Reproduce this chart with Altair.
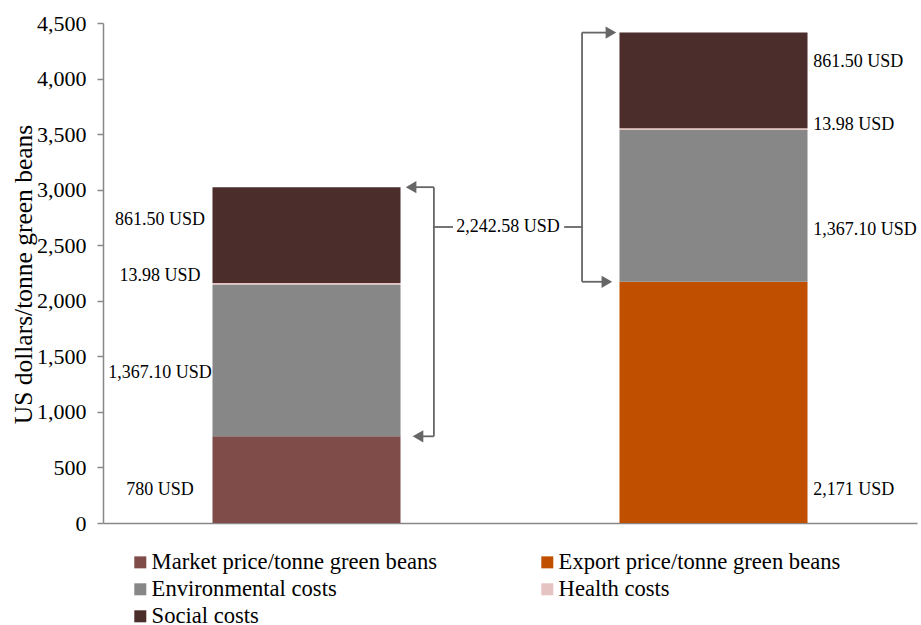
import altair as alt
import pandas as pd

# ---------------- data ----------------
bar_groups = ["Market", "Export"]
base_names = ["Market price/tonne green beans", "Export price/tonne green beans"]
base_values = [780, 2171]
cost_names = ["Environmental costs", "Health costs", "Social costs"]
cost_values = [1367.10, 13.98, 861.50]
base_labels = ["780 USD", "2,171 USD"]
cost_labels = ["1,367.10 USD", "13.98 USD", "861.50 USD"]
difference_label = "2,242.58 USD"

legend_order = [
    "Market price/tonne green beans",
    "Export price/tonne green beans",
    "Environmental costs",
    "Health costs",
    "Social costs",
]
colors = ["#7f4c49", "#c05000", "#878787", "#e5c3c3", "#4b2d2c"]
y_ticks = [0, 500, 1000, 1500, 2000, 2500, 3000, 3500, 4000, 4500]

# label nudges (data units) relative to segment middles
label_nudge = [[-93, -113, 69, 135], [-788, -217, 37, 166]]

FONT = "Liberation Serif"
LINE = "#666666"

# ---------------- build tables ----------------
rows = []
for i, g in enumerate(bar_groups):
    names = [base_names[i]] + cost_names
    vals = [base_values[i]] + cost_values
    labs = [base_labels[i]] + cost_labels
    cum = 0.0
    for k, (n, v, l) in enumerate(zip(names, vals, labs)):
        rows.append(dict(group=g, component=n, value=v, lo=cum, hi=cum + v,
                         label=l, ly=cum + v / 2 + label_nudge[i][k], side=i))
        cum += v
df = pd.DataFrame(rows)
totals = [base_values[i] + sum(cost_values) for i in range(2)]

# annotation geometry in band units (each bar group = 1 unit, centre at i + 0.5)
left_br, right_br = 0.813, 1.177
tip_lt, tip_lb, tip_rt, tip_rb = 0.742, 0.759, 1.263, 1.253
head = 0.015
conn_y = 2664
segs = pd.DataFrame([
    dict(x=left_br, x2=left_br, y=base_values[0], y2=totals[0]),
    dict(x=tip_lt + head, x2=left_br, y=totals[0], y2=totals[0]),
    dict(x=tip_lb + head, x2=left_br, y=base_values[0], y2=base_values[0]),
    dict(x=left_br, x2=0.860, y=conn_y, y2=conn_y),
    dict(x=1.133, x2=right_br, y=conn_y, y2=conn_y),
    dict(x=right_br, x2=right_br, y=base_values[1], y2=totals[1]),
    dict(x=right_br, x2=tip_rt - head, y=totals[1], y2=totals[1]),
    dict(x=right_br, x2=tip_rb - head, y=base_values[1], y2=base_values[1]),
])
heads_l = pd.DataFrame([dict(x=tip_lt + head, y=totals[0]), dict(x=tip_lb + head, y=base_values[0])])
heads_r = pd.DataFrame([dict(x=tip_rt - head, y=totals[1]), dict(x=tip_rb - head, y=base_values[1])])
diff_df = pd.DataFrame([dict(x=0.995, y=conn_y, t=difference_label)])

yscale = alt.Scale(domain=[0, 4500], nice=False)
xa = lambda f="x": alt.X(f"{f}:Q", scale=alt.Scale(domain=[0, 2], nice=False, zero=False), axis=None)

bars = alt.Chart(df).mark_bar().encode(
    x=alt.X("group:N", sort=bar_groups,
            scale=alt.Scale(paddingInner=0.538, paddingOuter=0.269),
            axis=alt.Axis(labels=False, ticks=False, title=None, domainColor="#888888",
                          domainWidth=1.5)),
    y=alt.Y("lo:Q", scale=yscale,
            axis=alt.Axis(values=y_ticks, format=",.0f", grid=False,
                          labelFont=FONT, labelFontSize=22, labelColor="#000000",
                          labelPadding=11, tickColor="#888888", tickSize=6, tickWidth=1.5,
                          domainColor="#888888", domainWidth=1.5,
                          title="US dollars/tonne green beans", titleFont=FONT,
                          titleFontSize=25.5, titleFontWeight="normal", titleColor="#000000",
                          titleX=-80, titleY=251, titleAngle=270, titleAlign="center",
                          titleBaseline="middle")),
    y2="hi:Q",
    color=alt.Color("component:N", scale=alt.Scale(domain=legend_order, range=colors),
                    legend=alt.Legend(orient="none", legendX=26, legendY=528,
                                      direction="horizontal", columns=2, columnPadding=98,
                                      rowPadding=4, symbolType="square", symbolSize=144,
                                      symbolStrokeWidth=0, labelFont=FONT, labelFontSize=22.6,
                                      labelColor="#000000", title=None, labelOffset=0,
                                      padding=0, labelLimit=0)),
)

left_text = alt.Chart(df[df.side == 0]).mark_text(
    font=FONT, fontSize=18, color="#000000", align="center", baseline="middle"
).encode(x=alt.X("lx:Q", scale=alt.Scale(domain=[0, 2], nice=False, zero=False), axis=None),
         y=alt.Y("ly:Q", scale=yscale), text="label:N").transform_calculate(lx="0.140")

right_text = alt.Chart(df[df.side == 1]).mark_text(
    font=FONT, fontSize=18, color="#000000", align="left", baseline="middle"
).encode(x=alt.X("lx:Q", scale=alt.Scale(domain=[0, 2], nice=False, zero=False), axis=None),
         y=alt.Y("ly:Q", scale=yscale), text="label:N").transform_calculate(lx="1.745")

rules = alt.Chart(segs).mark_rule(color=LINE, strokeWidth=1.8).encode(
    x=xa(), x2="x2:Q", y=alt.Y("y:Q", scale=yscale), y2="y2:Q")

hl = alt.Chart(heads_l).mark_point(shape="triangle-left", filled=True, size=150,
                                     color=LINE, opacity=1).encode(
    x=xa(), y=alt.Y("y:Q", scale=yscale))
hr = alt.Chart(heads_r).mark_point(shape="triangle-right", filled=True, size=150,
                                     color=LINE, opacity=1).encode(
    x=xa(), y=alt.Y("y:Q", scale=yscale))

diff = alt.Chart(diff_df).mark_text(font=FONT, fontSize=18, color="#000000",
                                    align="center", baseline="middle").encode(
    x=xa(), y=alt.Y("y:Q", scale=yscale), text="t:N")

chart = alt.layer(bars, left_text, right_text, rules, hl, hr, diff).resolve_scale(
    x="independent"
).properties(
    width=814, height=500,
    autosize=alt.AutoSizeParams(type="none"),
    padding={"left": 103, "top": 23, "right": 4, "bottom": 102},
).configure_view(stroke=None)

chart.save("out.html", embed_options={"renderer": "svg", "actions": False})
